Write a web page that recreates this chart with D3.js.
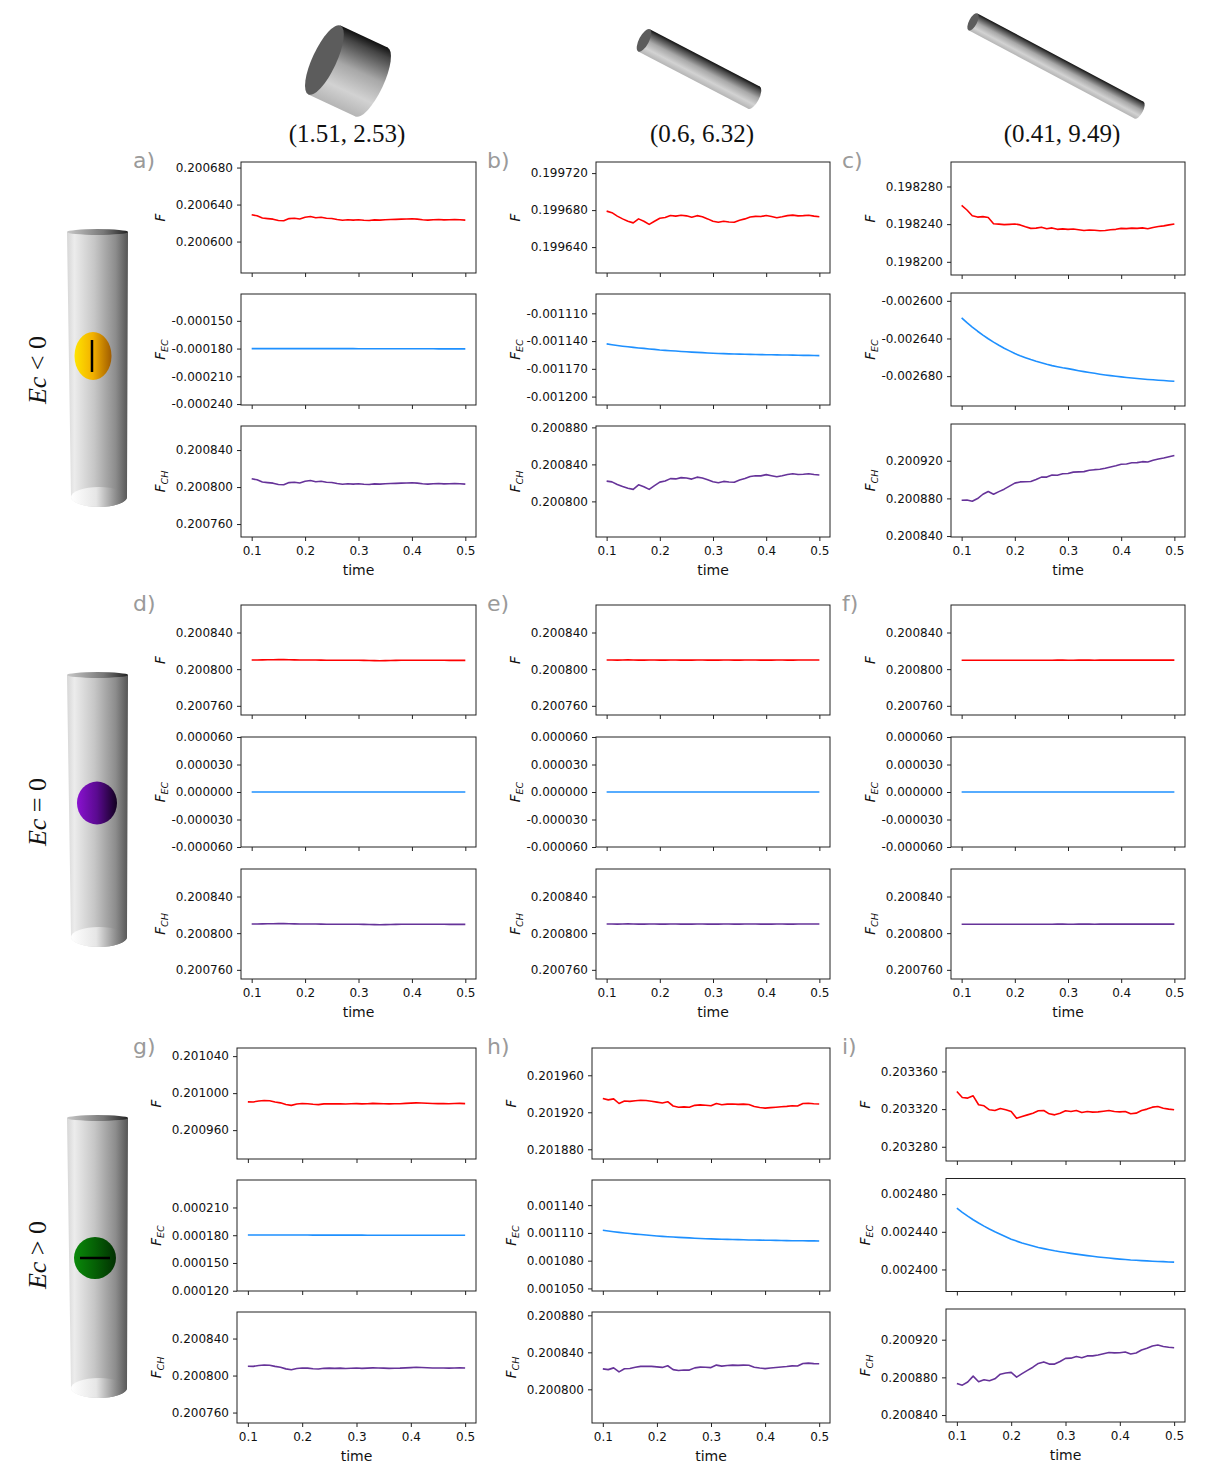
<!DOCTYPE html>
<html>
<head>
<meta charset="utf-8">
<script src="https://cdn.jsdelivr.net/npm/d3@7"></script>
<style>
  body { margin: 0; background: #fff; }
  svg { display: block; }
</style>
</head>
<body>
<div id="chart"></div>
<script>
// time samples (x axis of every subplot)
const time = [
  0.10,0.11,0.12,0.13,0.14,0.15,0.16,0.17,0.18,0.19,
  0.20,0.21,0.22,0.23,0.24,0.25,0.26,0.27,0.28,0.29,
  0.30,0.31,0.32,0.33,0.34,0.35,0.36,0.37,0.38,0.39,
  0.40,0.41,0.42,0.43,0.44,0.45,0.46,0.47,0.48,0.49,
  0.50];
const timeTicks = [0.1, 0.2, 0.3, 0.4, 0.5];

// ---- a) Ec<0, (1.51, 2.53)
const aF = [
  0.2006290,0.2006278,0.2006255,0.2006248,0.2006242,0.2006228,0.2006225,0.2006248,0.2006252,0.2006244,
  0.2006262,0.2006270,0.2006258,0.2006262,0.2006252,0.2006250,0.2006238,0.2006230,0.2006236,0.2006232,
  0.2006235,0.2006230,0.2006228,0.2006234,0.2006232,0.2006236,0.2006238,0.2006240,0.2006242,0.2006244,
  0.2006246,0.2006242,0.2006236,0.2006232,0.2006236,0.2006238,0.2006234,0.2006236,0.2006238,0.2006235,
  0.2006232];
const aEC = [
  -0.0001800,-0.0001800,-0.0001800,-0.0001800,-0.0001800,-0.0001800,-0.0001800,-0.0001800,-0.0001800,-0.0001800,
  -0.0001801,-0.0001801,-0.0001801,-0.0001801,-0.0001801,-0.0001801,-0.0001801,-0.0001801,-0.0001801,-0.0001801,
  -0.0001802,-0.0001802,-0.0001802,-0.0001802,-0.0001802,-0.0001802,-0.0001802,-0.0001802,-0.0001802,-0.0001802,
  -0.0001802,-0.0001802,-0.0001802,-0.0001802,-0.0001802,-0.0001803,-0.0001803,-0.0001803,-0.0001803,-0.0001803,
  -0.0001803];
const aCH = [
  0.2008090,0.2008078,0.2008055,0.2008048,0.2008042,0.2008028,0.2008025,0.2008048,0.2008052,0.2008044,
  0.2008062,0.2008070,0.2008058,0.2008062,0.2008052,0.2008050,0.2008038,0.2008030,0.2008036,0.2008032,
  0.2008035,0.2008030,0.2008028,0.2008034,0.2008032,0.2008036,0.2008038,0.2008040,0.2008042,0.2008044,
  0.2008046,0.2008042,0.2008036,0.2008032,0.2008036,0.2008038,0.2008034,0.2008036,0.2008038,0.2008035,
  0.2008032];

// ---- b) Ec<0, (0.6, 6.32)
const bF = [
  0.1996789,0.1996772,0.1996735,0.1996705,0.1996680,0.1996662,0.1996705,0.1996680,0.1996645,0.1996680,
  0.1996712,0.1996720,0.1996742,0.1996735,0.1996745,0.1996738,0.1996722,0.1996740,0.1996728,0.1996705,
  0.1996680,0.1996668,0.1996680,0.1996672,0.1996668,0.1996690,0.1996705,0.1996725,0.1996732,0.1996730,
  0.1996742,0.1996730,0.1996718,0.1996728,0.1996740,0.1996746,0.1996738,0.1996740,0.1996744,0.1996735,
  0.1996728];
const bEC = [
  -0.0011430,-0.0011439,-0.0011447,-0.0011455,-0.0011462,-0.0011468,-0.0011474,-0.0011479,-0.0011485,-0.0011490,
  -0.0011496,-0.0011500,-0.0011504,-0.0011508,-0.0011512,-0.0011515,-0.0011519,-0.0011522,-0.0011525,-0.0011529,
  -0.0011532,-0.0011534,-0.0011536,-0.0011538,-0.0011539,-0.0011541,-0.0011542,-0.0011544,-0.0011545,-0.0011546,
  -0.0011547,-0.0011548,-0.0011549,-0.0011550,-0.0011551,-0.0011552,-0.0011553,-0.0011554,-0.0011555,-0.0011556,
  -0.0011557];
const bCH = [
  0.2008219,0.2008211,0.2008182,0.2008160,0.2008142,0.2008130,0.2008179,0.2008159,0.2008130,0.2008170,
  0.2008208,0.2008220,0.2008246,0.2008243,0.2008257,0.2008253,0.2008241,0.2008262,0.2008253,0.2008234,
  0.2008212,0.2008202,0.2008216,0.2008210,0.2008207,0.2008231,0.2008247,0.2008269,0.2008277,0.2008276,
  0.2008289,0.2008278,0.2008267,0.2008278,0.2008291,0.2008298,0.2008291,0.2008294,0.2008299,0.2008291,
  0.2008285];

// ---- c) Ec<0, (0.41, 9.49)
const cF = [
  0.1982600,0.1982550,0.1982490,0.1982475,0.1982480,0.1982470,0.1982405,0.1982400,0.1982395,0.1982398,
  0.1982402,0.1982392,0.1982372,0.1982355,0.1982358,0.1982368,0.1982352,0.1982360,0.1982345,0.1982350,
  0.1982345,0.1982348,0.1982340,0.1982332,0.1982338,0.1982335,0.1982330,0.1982333,0.1982340,0.1982345,
  0.1982355,0.1982352,0.1982358,0.1982355,0.1982360,0.1982352,0.1982365,0.1982375,0.1982382,0.1982392,
  0.1982402];
const cEC = [
  -0.0026181,-0.0026232,-0.0026279,-0.0026323,-0.0026364,-0.0026403,-0.0026439,-0.0026472,-0.0026503,-0.0026532,
  -0.0026560,-0.0026583,-0.0026604,-0.0026624,-0.0026642,-0.0026658,-0.0026674,-0.0026688,-0.0026700,-0.0026711,
  -0.0026720,-0.0026731,-0.0026742,-0.0026752,-0.0026761,-0.0026770,-0.0026779,-0.0026787,-0.0026794,-0.0026801,
  -0.0026808,-0.0026814,-0.0026820,-0.0026825,-0.0026830,-0.0026835,-0.0026839,-0.0026843,-0.0026847,-0.0026851,
  -0.0026854];
const cCH = [
  0.2008781,0.2008782,0.2008769,0.2008798,0.2008844,0.2008873,0.2008844,0.2008872,0.2008898,0.2008930,
  0.2008962,0.2008975,0.2008976,0.2008979,0.2009000,0.2009026,0.2009026,0.2009048,0.2009045,0.2009061,
  0.2009065,0.2009079,0.2009082,0.2009084,0.2009099,0.2009105,0.2009109,0.2009120,0.2009134,0.2009146,
  0.2009163,0.2009166,0.2009178,0.2009180,0.2009190,0.2009187,0.2009204,0.2009218,0.2009229,0.2009243,
  0.2009256];

// ---- d, e, f) Ec=0 (F_EC is zero, so F_CH equals F)
const dF = [
  0.2008100,0.2008100,0.2008101,0.2008102,0.2008103,0.2008104,0.2008105,0.2008103,0.2008101,0.2008100,
  0.2008100,0.2008100,0.2008100,0.2008099,0.2008098,0.2008097,0.2008097,0.2008097,0.2008098,0.2008097,
  0.2008097,0.2008096,0.2008095,0.2008093,0.2008092,0.2008093,0.2008095,0.2008096,0.2008097,0.2008098,
  0.2008098,0.2008098,0.2008097,0.2008097,0.2008098,0.2008097,0.2008097,0.2008096,0.2008097,0.2008096,
  0.2008096];
const eF = [
  0.2008100,0.2008100,0.2008099,0.2008100,0.2008101,0.2008100,0.2008099,0.2008099,0.2008100,0.2008100,
  0.2008099,0.2008099,0.2008100,0.2008100,0.2008099,0.2008099,0.2008099,0.2008100,0.2008100,0.2008099,
  0.2008099,0.2008099,0.2008100,0.2008100,0.2008099,0.2008099,0.2008100,0.2008100,0.2008100,0.2008099,
  0.2008099,0.2008099,0.2008100,0.2008100,0.2008099,0.2008099,0.2008100,0.2008100,0.2008100,0.2008100,
  0.2008100];
const fF = [
  0.2008098,0.2008098,0.2008098,0.2008097,0.2008098,0.2008098,0.2008098,0.2008097,0.2008097,0.2008098,
  0.2008098,0.2008098,0.2008098,0.2008098,0.2008097,0.2008098,0.2008098,0.2008098,0.2008099,0.2008099,
  0.2008098,0.2008098,0.2008099,0.2008099,0.2008099,0.2008098,0.2008099,0.2008099,0.2008099,0.2008099,
  0.2008099,0.2008099,0.2008099,0.2008100,0.2008099,0.2008099,0.2008099,0.2008099,0.2008100,0.2008099,
  0.2008099];
const zeroEC = [
  0,0,0,0,0,0,0,0,0,0,
  0,0,0,0,0,0,0,0,0,0,
  0,0,0,0,0,0,0,0,0,0,
  0,0,0,0,0,0,0,0,0,0,
  0];

// ---- g) Ec>0, (1.51, 2.53)
const gF = [
  0.2009906,0.2009905,0.2009915,0.2009920,0.2009918,0.2009905,0.2009895,0.2009878,0.2009868,0.2009882,
  0.2009888,0.2009886,0.2009880,0.2009876,0.2009884,0.2009886,0.2009884,0.2009886,0.2009883,0.2009885,
  0.2009887,0.2009884,0.2009886,0.2009889,0.2009887,0.2009886,0.2009884,0.2009885,0.2009886,0.2009889,
  0.2009892,0.2009895,0.2009893,0.2009890,0.2009888,0.2009887,0.2009888,0.2009886,0.2009888,0.2009889,
  0.2009887];
const gEC = [
  0.0001803,0.0001803,0.0001803,0.0001803,0.0001803,0.0001802,0.0001802,0.0001802,0.0001802,0.0001802,
  0.0001802,0.0001802,0.0001801,0.0001801,0.0001801,0.0001801,0.0001801,0.0001801,0.0001801,0.0001801,
  0.0001801,0.0001801,0.0001800,0.0001800,0.0001800,0.0001800,0.0001800,0.0001800,0.0001800,0.0001800,
  0.0001800,0.0001800,0.0001800,0.0001800,0.0001800,0.0001800,0.0001800,0.0001800,0.0001800,0.0001800,
  0.0001800];
const gCH = [
  0.2008100,0.2008099,0.2008109,0.2008114,0.2008112,0.2008099,0.2008089,0.2008072,0.2008062,0.2008076,
  0.2008082,0.2008080,0.2008074,0.2008070,0.2008078,0.2008080,0.2008078,0.2008080,0.2008077,0.2008079,
  0.2008081,0.2008078,0.2008080,0.2008083,0.2008081,0.2008080,0.2008078,0.2008079,0.2008080,0.2008083,
  0.2008086,0.2008089,0.2008087,0.2008084,0.2008082,0.2008081,0.2008082,0.2008080,0.2008082,0.2008083,
  0.2008081];

// ---- h) Ec>0, (0.6, 6.32)
const hF = [
  0.2019350,0.2019334,0.2019345,0.2019295,0.2019322,0.2019318,0.2019325,0.2019330,0.2019327,0.2019320,
  0.2019310,0.2019300,0.2019314,0.2019268,0.2019255,0.2019258,0.2019254,0.2019275,0.2019280,0.2019276,
  0.2019270,0.2019295,0.2019282,0.2019288,0.2019290,0.2019286,0.2019288,0.2019284,0.2019262,0.2019252,
  0.2019245,0.2019250,0.2019255,0.2019260,0.2019264,0.2019270,0.2019268,0.2019295,0.2019297,0.2019292,
  0.2019290];
const hEC = [
  0.0011129,0.0011121,0.0011113,0.0011106,0.0011099,0.0011093,0.0011087,0.0011082,0.0011077,0.0011072,
  0.0011067,0.0011063,0.0011059,0.0011055,0.0011052,0.0011049,0.0011046,0.0011043,0.0011040,0.0011037,
  0.0011035,0.0011033,0.0011031,0.0011030,0.0011028,0.0011027,0.0011026,0.0011024,0.0011023,0.0011022,
  0.0011021,0.0011020,0.0011019,0.0011018,0.0011017,0.0011016,0.0011016,0.0011015,0.0011014,0.0011014,
  0.0011013];
const hCH = [
  0.2008221,0.2008213,0.2008232,0.2008189,0.2008223,0.2008225,0.2008238,0.2008248,0.2008250,0.2008248,
  0.2008243,0.2008237,0.2008255,0.2008213,0.2008203,0.2008209,0.2008208,0.2008232,0.2008240,0.2008239,
  0.2008235,0.2008262,0.2008251,0.2008258,0.2008262,0.2008259,0.2008262,0.2008260,0.2008239,0.2008230,
  0.2008224,0.2008230,0.2008236,0.2008242,0.2008247,0.2008254,0.2008252,0.2008280,0.2008283,0.2008278,
  0.2008277];

// ---- i) Ec>0, (0.41, 9.49)
const iF = [
  0.2033387,0.2033324,0.2033317,0.2033341,0.2033246,0.2033235,0.2033193,0.2033185,0.2033207,0.2033193,
  0.2033175,0.2033104,0.2033122,0.2033139,0.2033157,0.2033182,0.2033185,0.2033150,0.2033139,0.2033157,
  0.2033182,0.2033175,0.2033185,0.2033164,0.2033175,0.2033168,0.2033171,0.2033178,0.2033185,0.2033175,
  0.2033171,0.2033175,0.2033150,0.2033157,0.2033185,0.2033200,0.2033221,0.2033228,0.2033210,0.2033200,
  0.2033193];
const iEC = [
  0.0024651,0.0024607,0.0024566,0.0024528,0.0024493,0.0024460,0.0024429,0.0024400,0.0024373,0.0024347,
  0.0024322,0.0024301,0.0024282,0.0024265,0.0024249,0.0024234,0.0024221,0.0024209,0.0024198,0.0024189,
  0.0024180,0.0024171,0.0024163,0.0024155,0.0024147,0.0024140,0.0024133,0.0024127,0.0024121,0.0024115,
  0.0024110,0.0024106,0.0024101,0.0024098,0.0024094,0.0024091,0.0024088,0.0024085,0.0024083,0.0024080,
  0.0024078];
const iCH = [
  0.2008736,0.2008717,0.2008751,0.2008813,0.2008753,0.2008775,0.2008764,0.2008785,0.2008834,0.2008846,
  0.2008853,0.2008803,0.2008840,0.2008874,0.2008908,0.2008948,0.2008964,0.2008941,0.2008941,0.2008968,
  0.2009002,0.2009004,0.2009022,0.2009009,0.2009028,0.2009028,0.2009038,0.2009051,0.2009064,0.2009060,
  0.2009061,0.2009069,0.2009049,0.2009059,0.2009091,0.2009109,0.2009133,0.2009143,0.2009127,0.2009120,
  0.2009115];

// y limits [min, max] of each subplot
const aLims = [[0.200566, 0.200686], [-0.000241, -0.000121], [0.200746, 0.200866]];
const bLims = [[0.199612, 0.199732], [-0.0012091, -0.0010891], [0.2007615, 0.2008815]];
const cLims = [[0.198186, 0.198306], [-0.0027117, -0.0025917], [0.200839, 0.200959]];
const midLims = [[0.20075, 0.20087], [-0.00006, 0.00006], [0.20075, 0.20087]];
const gLims = [[0.2009288, 0.2010488], [0.0001197, 0.0002397], [0.2007487, 0.2008687]];
const hLims = [[0.2018695, 0.2019895], [0.0010472, 0.0011672], [0.2007636, 0.2008836]];
const iLims = [[0.2032649, 0.2033849], [0.0023766, 0.0024966], [0.2008326, 0.2009526]];

// y tick values of each subplot
const aTicks = [[0.2006, 0.20064, 0.20068], [-0.00024, -0.00021, -0.00018, -0.00015], [0.20076, 0.2008, 0.20084]];
const bTicks = [[0.19964, 0.19968, 0.19972], [-0.0012, -0.00117, -0.00114, -0.00111], [0.2008, 0.20084, 0.20088]];
const cTicks = [[0.1982, 0.19824, 0.19828], [-0.00268, -0.00264, -0.0026], [0.20084, 0.20088, 0.20092]];
const midTicks = [[0.20076, 0.2008, 0.20084], [-0.00006, -0.00003, 0, 0.00003, 0.00006], [0.20076, 0.2008, 0.20084]];
const gTicks = [[0.20096, 0.201, 0.20104], [0.00012, 0.00015, 0.00018, 0.00021], [0.20076, 0.2008, 0.20084]];
const hTicks = [[0.20188, 0.20192, 0.20196], [0.00105, 0.00108, 0.00111, 0.00114], [0.2008, 0.20084, 0.20088]];
const iTicks = [[0.20328, 0.20332, 0.20336], [0.0024, 0.00244, 0.00248], [0.20084, 0.20088, 0.20092]];

const colTitles = ["(1.51, 2.53)", "(0.6, 6.32)", "(0.41, 9.49)"];
const rowTitles = [["<", "0"], ["=", "0"], [">", "0"]];
const seriesColors = ["#ff0000", "#1e90ff", "#663399"];
const seriesSubs = ["", "EC", "CH"];

// panel table: layout + which arrays it shows
const panels = [
  {lab: "a)", lx: 133, x0: 241, x1: 476, y0: 162, h: 111, step: 132,   ys: [aF, aEC, aCH], lims: aLims, ticks: aTicks},
  {lab: "b)", lx: 487, x0: 596, x1: 830, y0: 162, h: 111, step: 132,   ys: [bF, bEC, bCH], lims: bLims, ticks: bTicks},
  {lab: "c)", lx: 842, x0: 951, x1: 1185, y0: 162, h: 113, step: 131,  ys: [cF, cEC, cCH], lims: cLims, ticks: cTicks},
  {lab: "d)", lx: 133, x0: 241, x1: 476, y0: 605, h: 110, step: 132,   ys: [dF, zeroEC, dF], lims: midLims, ticks: midTicks},
  {lab: "e)", lx: 487, x0: 596, x1: 830, y0: 605, h: 110, step: 132,   ys: [eF, zeroEC, eF], lims: midLims, ticks: midTicks},
  {lab: "f)", lx: 842, x0: 951, x1: 1185, y0: 605, h: 110, step: 132,  ys: [fF, zeroEC, fF], lims: midLims, ticks: midTicks},
  {lab: "g)", lx: 133, x0: 237, x1: 476, y0: 1048, h: 111, step: 132,  ys: [gF, gEC, gCH], lims: gLims, ticks: gTicks},
  {lab: "h)", lx: 487, x0: 592, x1: 830, y0: 1048, h: 111, step: 132,  ys: [hF, hEC, hCH], lims: hLims, ticks: hTicks},
  {lab: "i)", lx: 842, x0: 946, x1: 1185, y0: 1048, h: 113, step: 130.5, ys: [iF, iEC, iCH], lims: iLims, ticks: iTicks}
];

const W = 1205, H = 1474;
const svg = d3.select("#chart").append("svg")
  .attr("width", W).attr("height", H)
  .style("font-family", "'DejaVu Sans', sans-serif");

const yFmt = d3.formatLocale({decimal: ".", thousands: ",", grouping: [3], currency: ["", ""], minus: "-"}).format(".6f");
const xFmt = d3.format(".1f");

const defs = svg.append("defs");
function linGrad (id, stops, vertical) {
  const g = defs.append("linearGradient").attr("id", id)
    .attr("x1", 0).attr("y1", 0).attr("x2", vertical ? 0 : 1).attr("y2", vertical ? 1 : 0);
  stops.forEach(s => g.append("stop").attr("offset", s[0]).attr("stop-color", s[1]));
}
linGrad("tube", [[0, "#d6d6d6"], [0.12, "#ececec"], [0.45, "#c6c6c6"], [0.8, "#8c8c8c"], [1, "#555"]]);
linGrad("tubeTop", [[0, "#c8c8c8"], [0.6, "#777"], [1, "#222"]]);
linGrad("tubeHole", [[0, "#ffffff"], [0.45, "#e6e6e6"], [1, "#5a5a5a"]]);
linGrad("rod", [[0, "#111"], [0.12, "#444"], [0.45, "#a8a8a8"], [0.75, "#d2d2d2"], [1, "#b5b5b5"]], true);
linGrad("pYellow", [[0, "#ffe400"], [0.5, "#f2b000"], [1, "#a05c00"]]);
linGrad("pPurple", [[0, "#8a12d0"], [0.5, "#5a0a90"], [1, "#12001f"]]);
linGrad("pGreen", [[0, "#0a8a0a"], [0.5, "#056005"], [1, "#013001"]]);

// ---- subplots
panels.forEach(p => {
  const x = d3.scaleLinear().domain([0.08, 0.52]).range([p.x0, p.x1]);
  p.ys.forEach((vals, k) => {
    const top = p.y0 + k * p.step, bottom = top + p.h;
    const y = d3.scaleLinear().domain(p.lims[k]).range([bottom, top]);
    const g = svg.append("g");

    g.append("path")
      .datum(vals)
      .attr("fill", "none")
      .attr("stroke", seriesColors[k])
      .attr("stroke-width", 1.6)
      .attr("stroke-linejoin", "round")
      .attr("d", d3.line().x((d, i) => x(time[i])).y(d => y(d)));

    g.append("rect")
      .attr("x", p.x0).attr("y", top)
      .attr("width", p.x1 - p.x0).attr("height", p.h)
      .attr("fill", "none").attr("stroke", "#222").attr("stroke-width", 1);

    const ya = g.append("g")
      .call(d3.axisLeft(y).tickValues(p.ticks[k]).tickSize(4).tickPadding(4).tickFormat(yFmt))
      .attr("transform", `translate(${p.x0},0)`);
    const xa = g.append("g")
      .attr("transform", `translate(0,${bottom})`)
      .call(d3.axisBottom(x).tickValues(timeTicks).tickSize(4).tickPadding(5)
        .tickFormat(k === 2 ? xFmt : ""));
    [ya, xa].forEach(a => {
      a.select(".domain").remove();
      a.selectAll("line").attr("stroke", "#222");
      a.selectAll("text").attr("fill", "#111")
        .style("font-family", "'DejaVu Sans', sans-serif").style("font-size", "12px");
    });

    const lab = g.append("text")
      .attr("transform", `translate(${p.x0 - 76},${(top + bottom) / 2}) rotate(-90)`)
      .attr("text-anchor", "middle")
      .style("font-style", "italic").style("font-size", "13.5px").attr("fill", "#111");
    lab.append("tspan").text("F");
    if (seriesSubs[k]) {
      lab.append("tspan").attr("dy", 3).style("font-size", "9.5px").text(seriesSubs[k]);
    }

    if (k === 2) {
      g.append("text")
        .attr("x", (p.x0 + p.x1) / 2).attr("y", bottom + 38)
        .attr("text-anchor", "middle").style("font-size", "14px").attr("fill", "#111")
        .text("time");
    }
  });

  svg.append("text")
    .attr("x", p.lx).attr("y", p.y0 + 6)
    .style("font-size", "22px").attr("fill", "#9a9a9a")
    .text(p.lab);
});

// ---- column titles
const titleX = [347, 702, 1062];
colTitles.forEach((t, i) => {
  svg.append("text")
    .attr("x", titleX[i]).attr("y", 142)
    .attr("text-anchor", "middle")
    .style("font-family", "'Liberation Serif', 'DejaVu Serif', serif")
    .style("font-size", "25px").attr("fill", "#111")
    .text(t);
});

// ---- row titles
const rowY = [370, 812, 1255];
rowTitles.forEach((r, i) => {
  const t = svg.append("text")
    .attr("transform", `translate(46,${rowY[i]}) rotate(-90)`)
    .attr("text-anchor", "middle")
    .style("font-family", "'Liberation Serif', 'DejaVu Serif', serif")
    .style("font-size", "26px").attr("fill", "#111");
  t.append("tspan").style("font-style", "italic").text("Ec");
  t.append("tspan").text(" " + r[0] + " " + r[1]);
});

// ---- tilted rods on top (particle shapes)
const rods = [
  {cx: 348, cy: 71, ang: 25, len: 52, r: 38, cap: 12},
  {cx: 699, cy: 69, ang: 27.5, len: 124, r: 12.5, cap: 5},
  {cx: 1056, cy: 66, ang: 28, len: 188, r: 9.5, cap: 4}
];
rods.forEach(d => {
  const g = svg.append("g").attr("transform", `translate(${d.cx},${d.cy}) rotate(${d.ang})`);
  g.append("ellipse").attr("cx", d.len / 2).attr("cy", 0).attr("rx", d.cap).attr("ry", d.r).attr("fill", "url(#rod)");
  g.append("rect").attr("x", -d.len / 2).attr("y", -d.r).attr("width", d.len).attr("height", 2 * d.r).attr("fill", "url(#rod)");
  g.append("ellipse").attr("cx", -d.len / 2).attr("cy", 0).attr("rx", d.cap).attr("ry", d.r).attr("fill", "#5c5c5c");
});

// ---- vertical tubes on the left with the particle inside
const tubes = [
  {top: 232, bot: 497, fill: "url(#pYellow)", px: 93, py: 356, prx: 18.5, pry: 24, bar: "v"},
  {top: 675, bot: 937, fill: "url(#pPurple)", px: 97, py: 803, prx: 20, pry: 21.5, bar: ""},
  {top: 1118, bot: 1388, fill: "url(#pGreen)", px: 95, py: 1258, prx: 21, pry: 21, bar: "h"}
];
tubes.forEach(t => {
  const g = svg.append("g");
  g.append("path")
    .attr("d", `M67,${t.top} L128,${t.top} L127,${t.bot} A28,10 0 0 1 71,${t.bot} Z`)
    .attr("fill", "url(#tube)");
  g.append("ellipse").attr("cx", 97.5).attr("cy", t.top).attr("rx", 30.5).attr("ry", 3)
    .attr("fill", "url(#tubeTop)");
  g.append("ellipse").attr("cx", 99).attr("cy", t.bot).attr("rx", 28).attr("ry", 10)
    .attr("fill", "url(#tubeHole)");
  g.append("ellipse").attr("cx", t.px).attr("cy", t.py).attr("rx", t.prx).attr("ry", t.pry)
    .attr("fill", t.fill);
  if (t.bar === "v") {
    g.append("line").attr("x1", t.px - 1).attr("x2", t.px - 1).attr("y1", t.py - 16).attr("y2", t.py + 16)
      .attr("stroke", "#000").attr("stroke-width", 2.5);
  } else if (t.bar === "h") {
    g.append("line").attr("x1", t.px - 15).attr("x2", t.px + 15).attr("y1", t.py).attr("y2", t.py)
      .attr("stroke", "#000").attr("stroke-width", 2.5);
  }
});
</script>
</body>
</html>
